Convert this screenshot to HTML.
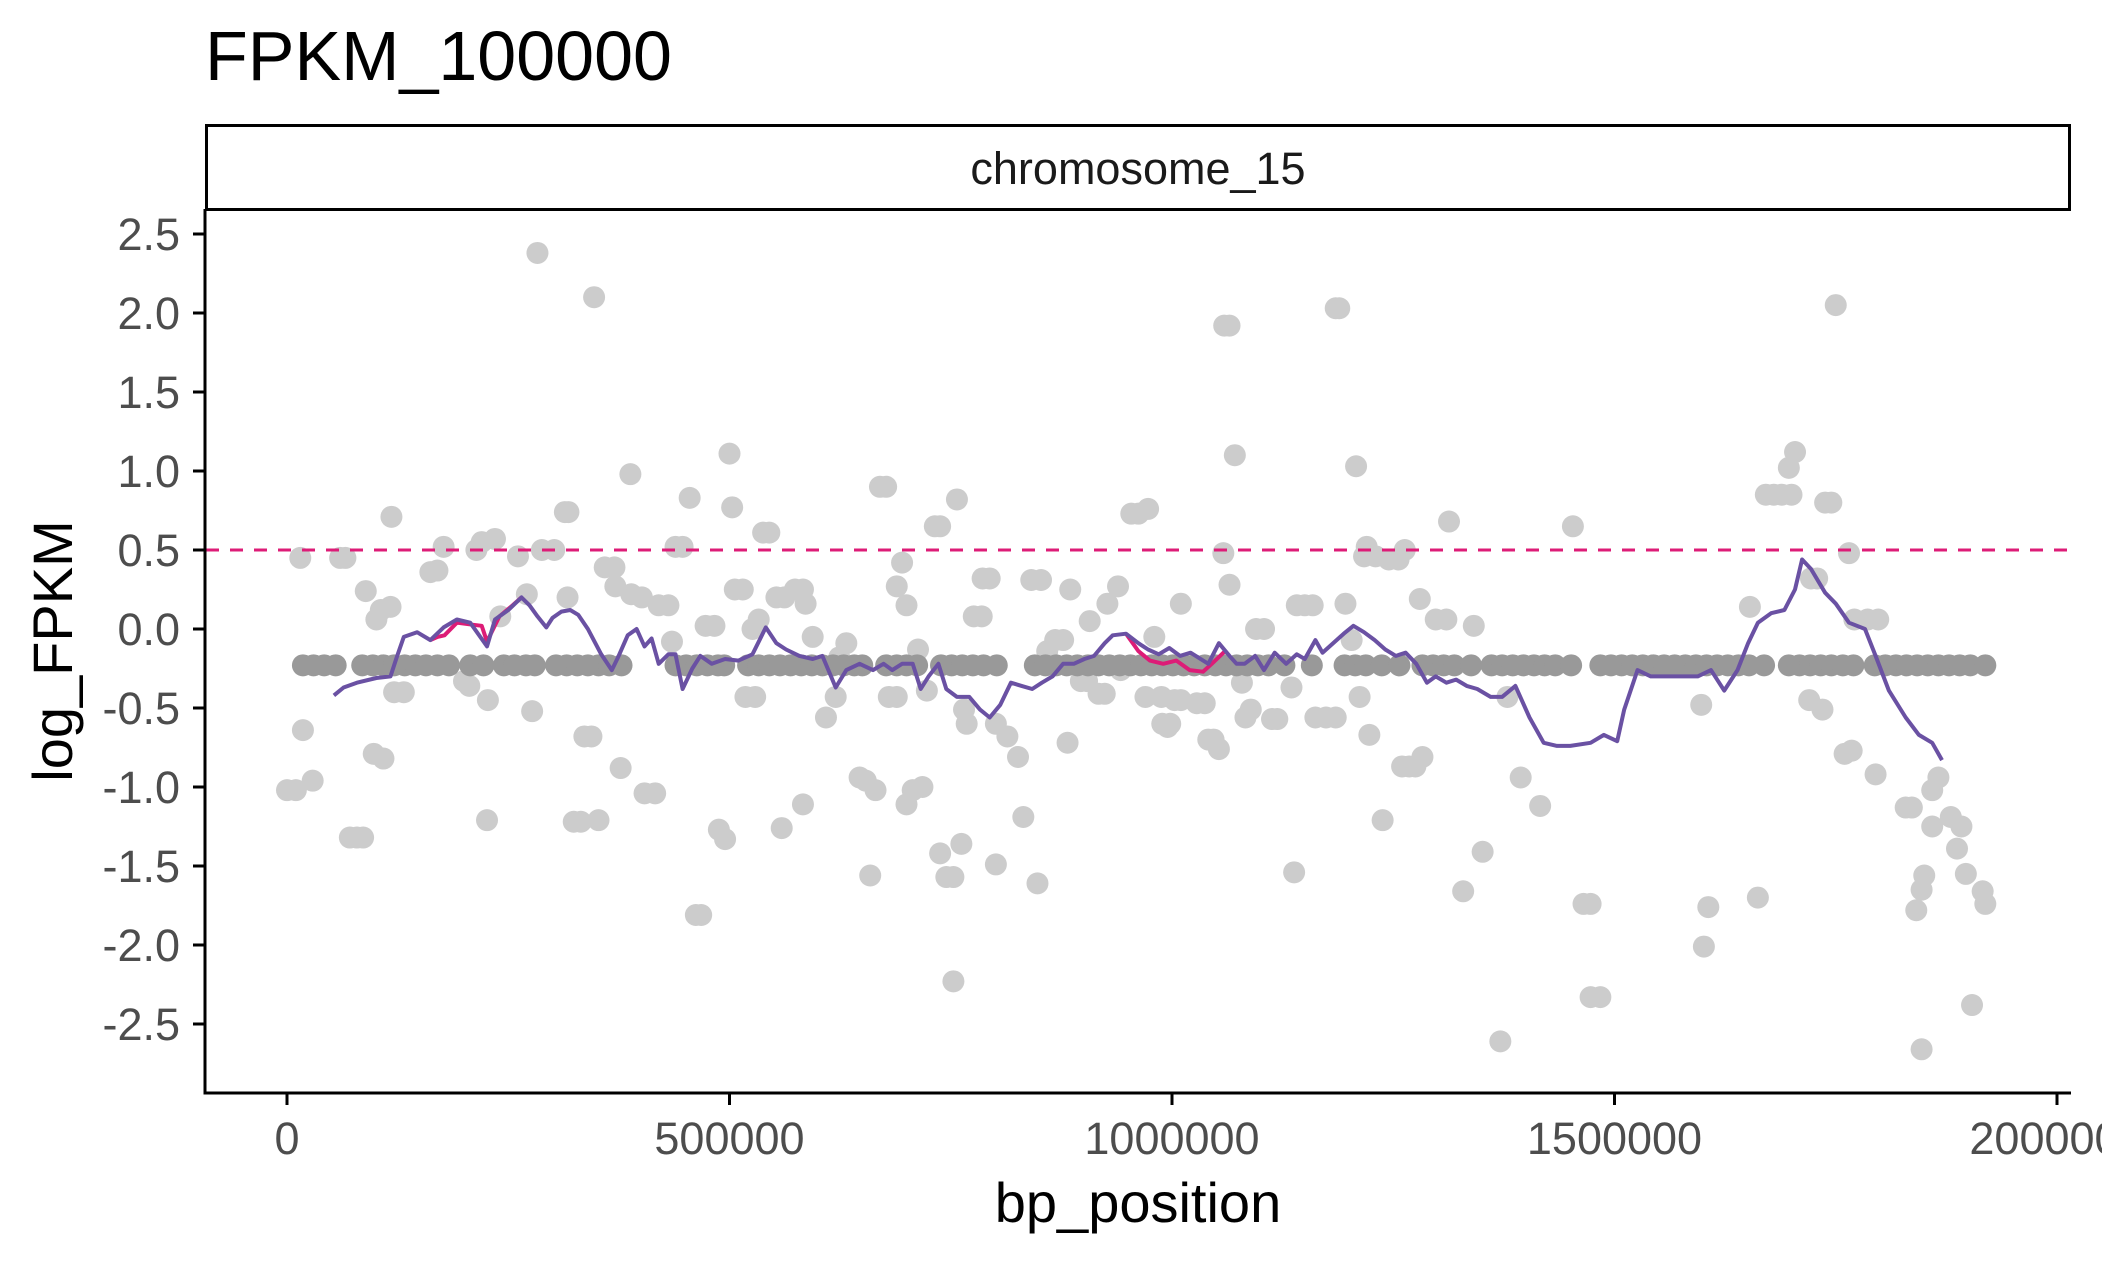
<!DOCTYPE html>
<html><head><meta charset="utf-8"><style>
html,body{margin:0;padding:0;background:#fff;}
svg{display:block;font-family:"Liberation Sans",Arial,sans-serif;}
</style></head><body>
<svg id="chart" width="2102" height="1261" viewBox="0 0 2102 1261" xmlns="http://www.w3.org/2000/svg">
<rect x="0" y="0" width="2102" height="1261" fill="#fff"/>
<text x="205" y="80" font-size="70" fill="#000">FPKM_100000</text>
<rect x="206.5" y="125.5" width="1863" height="84" fill="#fff" stroke="#000" stroke-width="3"/>
<text x="1138" y="184" font-size="45" text-anchor="middle" fill="#1a1a1a">chromosome_15</text>
<g id="light"></g>
<g id="dark"></g>
<g id="lines"></g>
<line id="thresh" stroke="#dd1c77" stroke-width="3" stroke-dasharray="13,11"/>
<line x1="205" y1="209" x2="205" y2="1094.5" stroke="#000" stroke-width="3"/>
<line x1="203.5" y1="1093" x2="2071" y2="1093" stroke="#000" stroke-width="3"/>
<g id="yticks"></g>
<g id="xticks"></g>
<text x="1138" y="1222" font-size="56" text-anchor="middle" fill="#000">bp_position</text>
<text transform="translate(72,651) rotate(-90)" font-size="56" text-anchor="middle" fill="#000">log_FPKM</text>
</svg>
<script>
const yTickVals = [2.5,2.0,1.5,1.0,0.5,0.0,-0.5,-1.0,-1.5,-2.0,-2.5];
const yTickLabels = ["2.5","2.0","1.5","1.0","0.5","0.0","-0.5","-1.0","-1.5","-2.0","-2.5"];
const xTickVals = [0,500000,1000000,1500000,2000000];
const xTickLabels = ["0","500000","1000000","1500000","2000000"];
const threshold = 0.5;
const lightX = [0,10,15,18,29,60,66,71,79,86,89,98,109,101,106,117,118,121,132,162,170,177,200,206,214,220,227,226,235,241,261,271,277,283,288,302,314,318,317,324,332,336,344,347,352,359,370,371,377,388,389,401,404,416,420,431,435,439,447,455,462,468,473,483,488,495,500,503,506,515,518,529,526,533,538,545,553,562,559,574,583,583,586,594,609,620,624,632,647,654,659,665,670,677,680,689,689,695,700,700,707,718,713,723,732,738,738,745,753,753,757,762,765,768,776,785,786,794,801,801,814,826,832,841,852,848,859,868,877,882,885,897,904,907,917,924,927,939,942,954,962,973,970,980,988,989,998,995,1003,1010,1010,1028,1037,1041,1047,1053,1059,1065,1058,1065,1071,1079,1083,1089,1095,1104,1113,1119,1135,1138,1141,1150,1159,1162,1174,1185,1185,1189,1196,1203,1208,1212,1220,1217,1223,1230,1238,1245,1256,1263,1260,1268,1275,1280,1283,1298,1310,1313,1329,1341,1351,1371,1379,1394,1416,1453,1465,1473,1473,1484,1598,1601,1606,1653,1662,1671,1680,1689,1700,1697,1704,1722,1729,1720,1738,1745,1735,1750,1760,1768,1765,1771,1786,1798,1795,1829,1836,1841,1847,1847,1859,1859,1866,1850,1880,1887,1892,1897,1904,1916,1919];
const lightY = [-1.02,-1.02,0.45,-0.64,-0.96,0.45,0.45,-1.32,-1.32,-1.32,0.24,-0.79,-0.82,0.06,0.12,0.14,0.71,-0.4,-0.4,0.36,0.37,0.52,-0.33,-0.36,0.5,0.55,-0.45,-1.21,0.57,0.08,0.46,0.22,-0.52,2.38,0.5,0.5,0.74,0.74,0.2,-1.22,-1.22,-0.68,-0.68,2.1,-1.21,0.39,0.39,0.27,-0.88,0.98,0.22,0.2,-1.04,-1.04,0.15,0.15,-0.08,0.52,0.52,0.83,-1.81,-1.81,0.02,0.02,-1.27,-1.33,1.11,0.77,0.25,0.25,-0.43,-0.43,0,0.06,0.61,0.61,0.2,0.2,-1.26,0.25,0.25,-1.11,0.16,-0.05,-0.56,-0.43,-0.18,-0.09,-0.94,-0.96,-1.56,-1.02,0.9,0.9,-0.43,-0.43,0.27,0.42,0.15,-1.11,-1.02,-1.0,-0.13,-0.39,0.65,0.65,-1.42,-1.57,-1.57,-2.23,0.82,-1.36,-0.51,-0.6,0.08,0.08,0.32,0.32,-1.49,-0.6,-0.68,-0.81,-1.19,0.31,0.31,-1.61,-0.14,-0.07,-0.07,-0.72,0.25,-0.33,-0.33,0.05,-0.41,-0.41,0.16,0.27,-0.26,0.73,0.73,0.76,-0.43,-0.05,-0.43,-0.6,-0.6,-0.62,-0.45,-0.45,0.16,-0.47,-0.47,-0.7,-0.7,-0.76,1.92,1.92,0.48,0.28,1.1,-0.34,-0.56,-0.51,0,0,-0.57,-0.57,-0.37,-1.54,0.15,0.15,0.15,-0.56,-0.56,-0.56,2.03,2.03,0.16,-0.07,1.03,-0.43,0.52,0.46,-0.67,0.46,-1.21,0.44,0.44,0.5,-0.87,-0.87,-0.87,0.19,-0.81,0.06,0.06,0.68,-1.66,0.02,-1.41,-2.61,-0.43,-0.94,-1.12,0.65,-1.74,-1.74,-2.33,-2.33,-0.48,-2.01,-1.76,0.14,-1.7,0.85,0.85,0.85,0.85,1.02,1.12,0.32,0.32,-0.45,0.8,0.8,-0.51,2.05,-0.79,-0.77,0.48,0.06,0.06,0.06,-0.92,-1.13,-1.13,-1.78,-1.65,-2.66,-1.25,-1.02,-0.94,-1.56,-1.19,-1.39,-1.25,-1.55,-2.38,-1.66,-1.74];
const darkX = [18,30,42,55,85,97,109,121,133,145,157,170,183,207,222,245,257,270,280,304,316,328,340,352,364,378,439,451,463,475,487,494,521,533,545,557,569,581,593,605,617,629,641,650,677,689,700,712,739,751,763,775,787,802,845,857,869,881,893,905,917,929,941,953,965,977,989,1001,1013,1025,1037,1049,1061,1073,1085,1097,1109,1127,1158,1195,1207,1219,1237,1257,1283,1295,1307,1319,1338,1361,1373,1385,1397,1409,1421,1433,1451,1484,1496,1508,1520,1532,1544,1556,1568,1580,1592,1604,1616,1628,1640,1652,1669,1697,1709,1721,1733,1745,1758,1770,1794,1806,1818,1830,1842,1854,1866,1878,1890,1902,1919];
const darkY = -0.23;
const purpleX = [53,64,79,101,117,124,132,147,162,177,192,207,226,235,250,265,274,283,293,300,310,320,329,340,355,367,374,385,395,404,412,420,431,439,447,458,467,480,495,510,526,541,553,564,579,594,605,620,632,647,662,674,684,695,707,716,725,736,745,757,771,783,794,806,818,830,842,853,865,877,889,901,912,924,933,948,962,973,985,997,1009,1021,1041,1053,1065,1073,1082,1094,1104,1116,1129,1141,1150,1162,1170,1182,1194,1205,1217,1229,1241,1253,1264,1276,1288,1298,1310,1321,1333,1345,1360,1373,1388,1404,1420,1435,1450,1473,1488,1503,1511,1526,1541,1556,1571,1594,1609,1624,1639,1651,1662,1677,1692,1704,1712,1722,1738,1750,1765,1783,1795,1810,1829,1844,1859,1870];
const purpleY = [-0.42,-0.37,-0.34,-0.31,-0.3,-0.18,-0.05,-0.02,-0.07,0.01,0.06,0.04,-0.11,0.06,0.12,0.2,0.15,0.08,0.01,0.07,0.11,0.12,0.09,0.0,-0.16,-0.26,-0.18,-0.04,0.0,-0.11,-0.06,-0.22,-0.16,-0.16,-0.38,-0.25,-0.17,-0.22,-0.19,-0.2,-0.16,0.01,-0.09,-0.13,-0.17,-0.19,-0.17,-0.37,-0.26,-0.22,-0.26,-0.22,-0.26,-0.22,-0.22,-0.38,-0.3,-0.22,-0.38,-0.43,-0.43,-0.51,-0.56,-0.48,-0.34,-0.36,-0.38,-0.34,-0.3,-0.22,-0.22,-0.19,-0.17,-0.09,-0.04,-0.03,-0.09,-0.13,-0.16,-0.12,-0.17,-0.15,-0.22,-0.09,-0.17,-0.22,-0.22,-0.17,-0.26,-0.15,-0.22,-0.16,-0.19,-0.07,-0.15,-0.09,-0.03,0.02,-0.02,-0.07,-0.13,-0.17,-0.15,-0.22,-0.34,-0.3,-0.34,-0.32,-0.36,-0.38,-0.43,-0.43,-0.36,-0.56,-0.72,-0.74,-0.74,-0.72,-0.67,-0.71,-0.51,-0.26,-0.3,-0.3,-0.3,-0.3,-0.26,-0.39,-0.26,-0.09,0.04,0.1,0.12,0.25,0.44,0.38,0.23,0.16,0.04,0.0,-0.17,-0.39,-0.56,-0.67,-0.72,-0.83];
const pinkAX = [162,170,178,192,206,220,226,240,255,265];
const pinkAY = [-0.07,-0.05,-0.04,0.04,0.03,0.02,-0.08,0.08,0.15,0.2];
const pinkBX = [948,962,975,990,1005,1020,1035,1045,1060];
const pinkBY = [-0.03,-0.14,-0.2,-0.22,-0.2,-0.26,-0.27,-0.22,-0.14];

const NS = "http://www.w3.org/2000/svg";
const X0 = 287, PX_PER_BP = 885/1e6, Y0 = 629, PX_PER_UNIT = 158;
function xs(bp){ return X0 + bp*PX_PER_BP; }
function xk(k){ return xs(k*1000); }
function ys(v){ return Y0 - v*PX_PER_UNIT; }
function mk(tag, attrs, parent){
  const e = document.createElementNS(NS, tag);
  for (const k in attrs) e.setAttribute(k, attrs[k]);
  parent.appendChild(e);
  return e;
}

const light = document.getElementById('light');
for (let i=0;i<lightX.length;i++){
  const c = mk('circle',{cx:xk(lightX[i]),cy:ys(lightY[i]),r:11,fill:'#cccccc'},light);
  
  
}
const dark = document.getElementById('dark');
for (let i=0;i<darkX.length;i++){
  const c = mk('circle',{cx:xk(darkX[i]),cy:ys(darkY),r:11,fill:'#999999'},dark);
  
  
}
const lines = document.getElementById('lines');
function poly(xa, ya, color, name){
  const pts = xa.map((x,i)=>xk(x).toFixed(1)+','+ys(ya[i]).toFixed(1)).join(' ');
  const p = mk('polyline',{points:pts,fill:'none',stroke:color,'stroke-width':4,'stroke-linejoin':'round'},lines);
  
  
}
poly(pinkAX, pinkAY, '#dd1c77', 'pink-line-segment-1');
poly(pinkBX, pinkBY, '#dd1c77', 'pink-line-segment-2');
poly(purpleX, purpleY, '#6a51a3', 'purple-trend-line');

const th = document.getElementById('thresh');
th.setAttribute('x1', 206); th.setAttribute('x2', 2071);
th.setAttribute('y1', ys(threshold)); th.setAttribute('y2', ys(threshold));

const yt = document.getElementById('yticks');
for (let i=0;i<yTickVals.length;i++){
  const y = ys(yTickVals[i]);
  const l = mk('line',{x1:193,x2:205,y1:y,y2:y,stroke:'#000','stroke-width':3},yt);
  
  
  const t = mk('text',{x:180,y:y+16,'font-size':45,'text-anchor':'end',fill:'#4d4d4d'},yt);
  t.textContent = yTickLabels[i];
  
  
}
const xt = document.getElementById('xticks');
for (let i=0;i<xTickVals.length;i++){
  const x = xs(xTickVals[i]);
  const l = mk('line',{x1:x,x2:x,y1:1093,y2:1105,stroke:'#000','stroke-width':3},xt);
  
  
  const t = mk('text',{x:x,y:1154,'font-size':45,'text-anchor':'middle',fill:'#4d4d4d'},xt);
  t.textContent = xTickLabels[i];
  
  
}
</script>
</body></html>
